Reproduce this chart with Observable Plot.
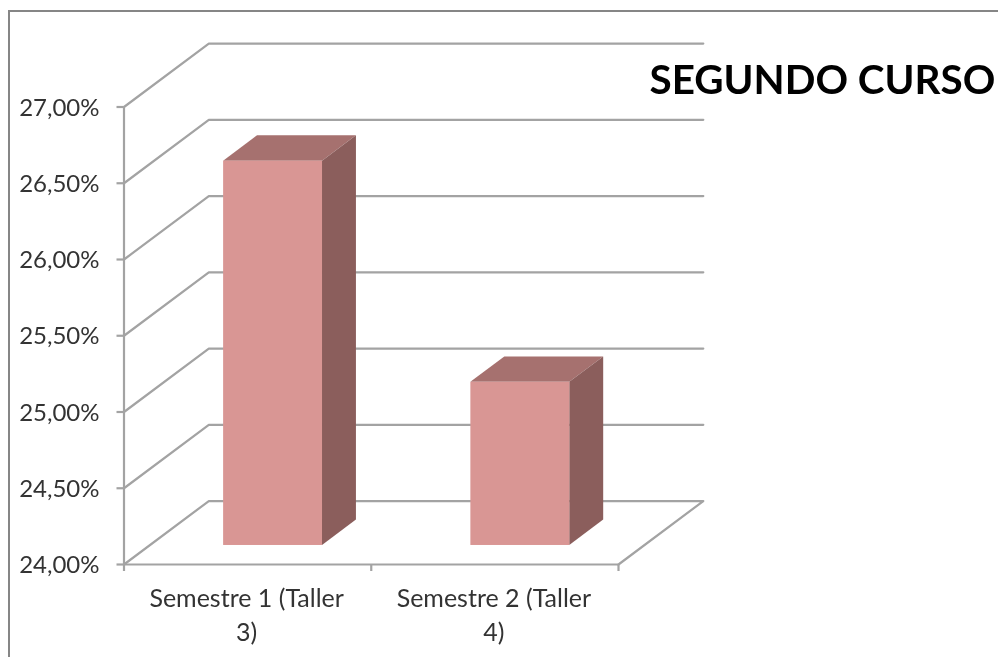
<!DOCTYPE html>
<html>
<head>
<meta charset="utf-8">
<script src="https://cdn.jsdelivr.net/npm/d3@7"></script>
<script src="https://cdn.jsdelivr.net/npm/@observablehq/plot@0.6"></script>
<style>
html,body{margin:0;padding:0;background:#fff;overflow:hidden;width:998px;height:657px}
#frame{position:absolute;left:8px;top:10px;width:1100px;height:800px;border-left:2.5px solid #868686;border-top:2.5px solid #868686}
#chart{position:absolute;left:0;top:0;filter:blur(0.4px)}
svg{overflow:visible;display:block}
</style>
</head>
<body>
<div id="frame"></div>
<div id="chart"></div>
<script>
const categories = ["Semestre 1 (Taller\n3)", "Semestre 2 (Taller\n4)"];
const values = [26.52, 25.07];
const yTicks = [24, 24.5, 25, 25.5, 26, 26.5, 27];
const chartTitle = "SEGUNDO CURSO";

// oblique 3D: one unit of depth moves a point along both scales
const DEPTH_X = 0.343, DEPTH_Y = 0.416;
const px = (u, d) => u + d * DEPTH_X;
const py = (v, d) => v + d * DEPTH_Y;
const N = categories.length, BASE = yTicks[0], BW = 0.4, D0 = 0.3, D1 = 0.7;

const grid = [];
yTicks.forEach(v => {
  grid.push({v, x: px(0, 0), y: py(v, 0)}, {v, x: px(0, 1), y: py(v, 1)}, {v, x: px(N, 1), y: py(v, 1)});
  if (v === BASE) grid.push({v, x: px(N, 0), y: py(v, 0)});
});
const bars = values.map((v, i) => ({v, u0: i + 0.5 - BW / 2, u1: i + 0.5 + BW / 2}));
const topFace = bars.flatMap(b => [D0, D1].map(d => ({b, x1: px(b.u0, d), y1: py(b.v, d), x2: px(b.u1, d), y2: py(b.v, d)})));
const sideFace = bars.flatMap(b => [D0, D1].map(d => ({b, x1: px(b.u1, d), y1: py(BASE, d), x2: px(b.u1, d), y2: py(b.v, d)})));

const axisColor = "#a3a3a3", inkColor = "#333333", sw = 2.2;
const font = "Lato, 'Open Sans', sans-serif";

const plot = Plot.plot({
  width: 998, height: 657,
  marginLeft: 123.5, marginRight: 380, marginTop: 106.5, marginBottom: 93,
  style: {background: "transparent", fontFamily: font},
  x: {domain: [0, N], label: null},
  y: {domain: [24, 27], label: null},
  marks: [
    Plot.line(grid, {x: "x", y: "y", z: "v", stroke: axisColor, strokeWidth: sw, curve: "linear"}),
    Plot.ruleX([0], {y1: 24, y2: 27, stroke: axisColor, strokeWidth: sw}),
    Plot.ruleY([24], {x1: 0, x2: N, stroke: axisColor, strokeWidth: sw}),
    Plot.axisY({ticks: yTicks, tickSize: 7, stroke: axisColor, strokeWidth: sw, strokeOpacity: 1,
      tickFormat: () => "", label: null}),
    Plot.axisY({ticks: yTicks, tickSize: 0, tickPadding: 24.5, dy: 1,
      tickFormat: d => d3.format(".2f")(d).replace(".", ",") + "%", label: null, fontSize: 24, fill: inkColor}),
    Plot.axisX({ticks: d3.range(N + 1), tickSize: 7, stroke: axisColor, strokeWidth: sw, strokeOpacity: 1,
      tickFormat: () => "", label: null}),
    Plot.area(topFace, {x1: "x1", y1: "y1", x2: "x2", y2: "y2", z: d => d.b.u0, fill: "#a6716f", curve: "linear"}),
    Plot.area(sideFace, {x1: "x1", y1: "y1", x2: "x2", y2: "y2", z: d => d.b.u0, fill: "#8b5e5c", curve: "linear"}),
    Plot.rect(bars, {
      x1: d => px(d.u0, D0), x2: d => px(d.u1, D0),
      y1: py(BASE, D0), y2: d => py(d.v, D0),
      fill: "#d99694", inset: 0
    }),
    Plot.text(categories, {
      x: (d, i) => i + 0.5, y: BASE, text: d => d, dy: 18, dx: -1, lineAnchor: "top",
      fontSize: 25, lineHeight: 1.36, fill: inkColor, textAnchor: "middle"
    }),
    Plot.text([chartTitle], {
      frameAnchor: "top-right", dx: 31, dy: -26, textAnchor: "start", lineAnchor: "middle",
      fontSize: 40.4, fontWeight: 700, fill: "#000", text: d => d, fontFamily: font
    })
  ]
});
document.getElementById("chart").appendChild(plot);
</script>
</body>
</html>
